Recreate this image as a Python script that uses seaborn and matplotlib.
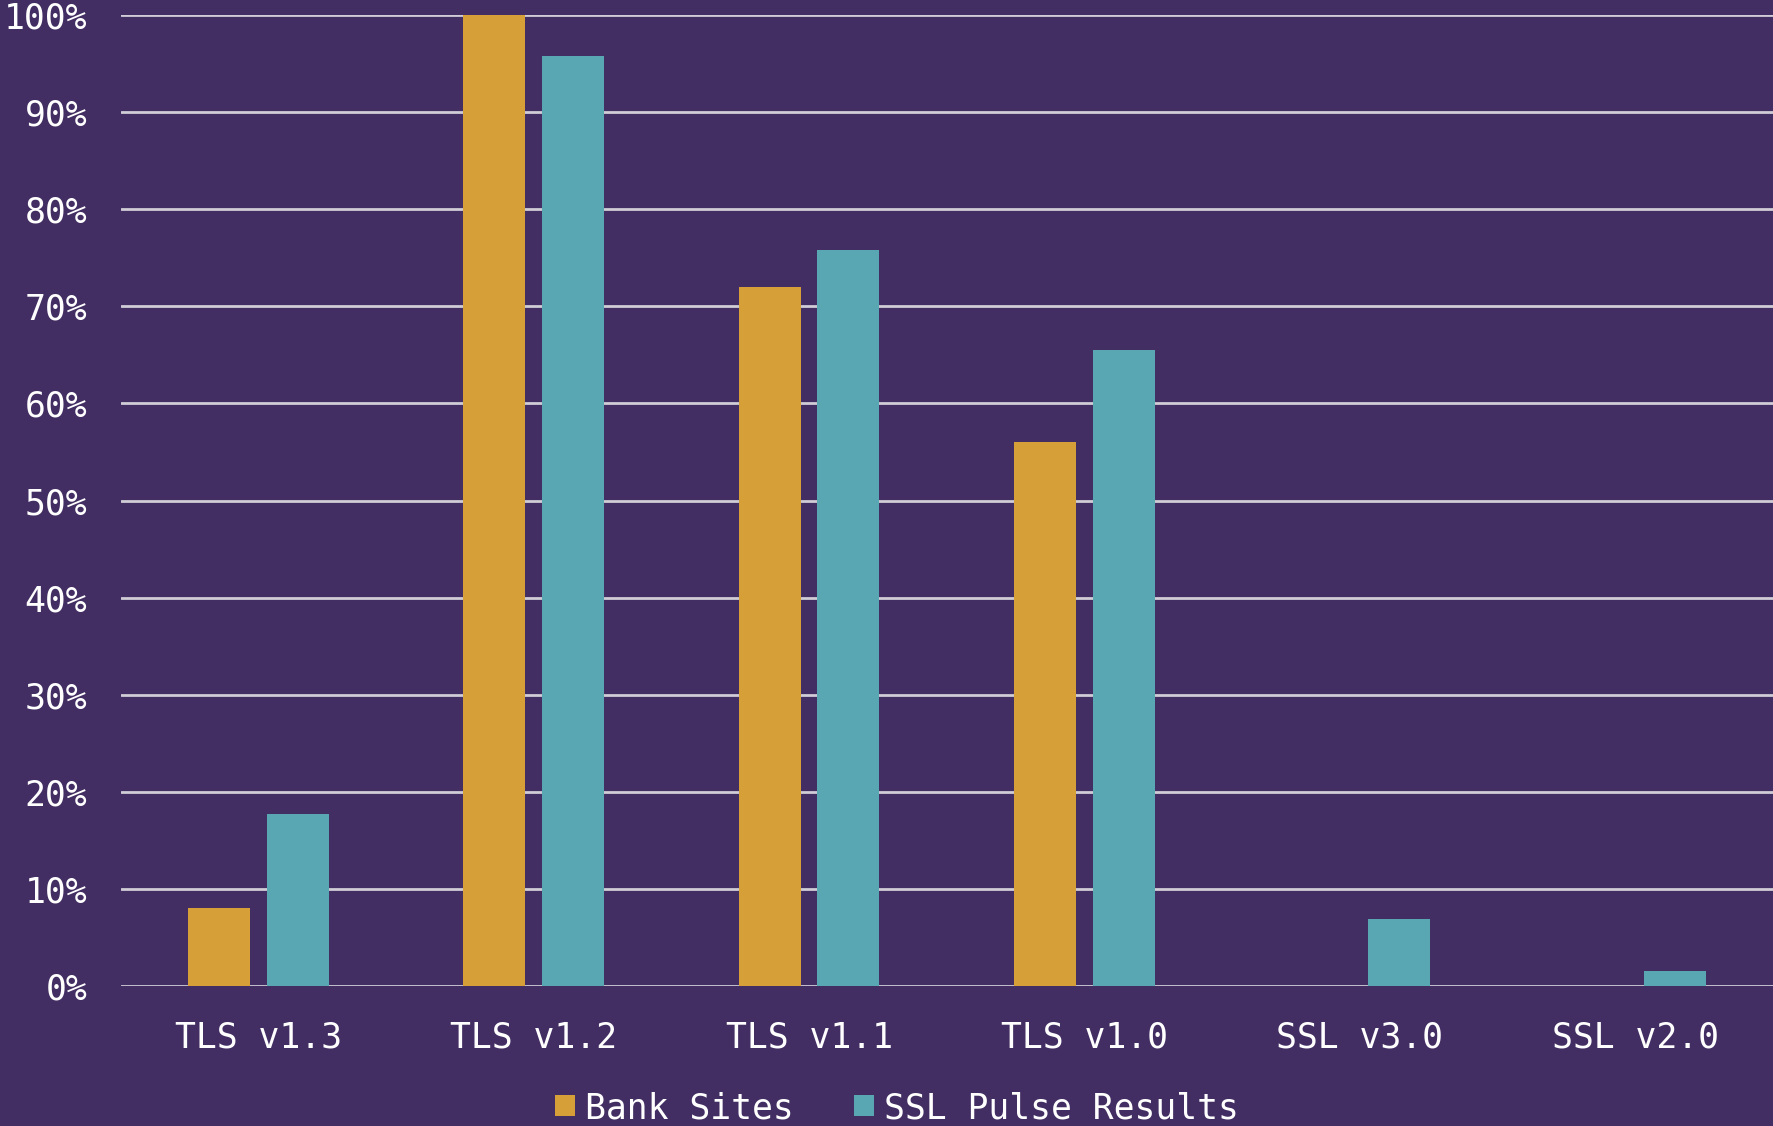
import seaborn as sns
import matplotlib.pyplot as plt
import pandas as pd
from matplotlib.ticker import FuncFormatter

# protocol support, percent of sites
protocols = ["TLS v1.3", "TLS v1.2", "TLS v1.1", "TLS v1.0", "SSL v3.0", "SSL v2.0"]
bank_sites = [8, 100, 72, 56, 0, 0]
ssl_pulse = [17.7, 95.8, 75.8, 65.5, 6.9, 1.6]
series = ["Bank Sites", "SSL Pulse Results"]

df = pd.DataFrame({
    "protocol": protocols * 2,
    "pct": bank_sites + ssl_pulse,
    "source": [series[0]] * len(protocols) + [series[1]] * len(protocols),
})

bg = "#432e63"
sns.set_theme(style="dark")
plt.rcParams["font.family"] = ["DejaVu Sans Mono"]

fig = plt.figure(figsize=(17.73, 11.26), dpi=100, facecolor=bg)
ax = fig.add_axes([0.068, 0.1243, 0.932, 0.8624])
ax.set_facecolor(bg)

sns.barplot(data=df, x="protocol", y="pct", hue="source", order=protocols,
            palette=["#d79f38", "#5aa7b4"], width=0.57, gap=0.21,
            linewidth=0, saturation=1, ax=ax, zorder=3)

ax.set_ylim(0, 100)
ax.set_xlim(-0.5, 5.5)
ax.set_yticks(range(0, 101, 10))
ax.yaxis.set_major_formatter(FuncFormatter(lambda v, p: f"{int(v)}%"))
ax.grid(axis="y", color="#d0cdd6", linewidth=2, zorder=0)
ax.grid(axis="x", visible=False)
for s in ax.spines.values():
    s.set_visible(False)
ax.set_xlabel("")
ax.set_ylabel("")
ax.tick_params(axis="y", length=0, pad=24, labelsize=25, labelcolor="white")
ax.tick_params(axis="x", length=0, pad=25, labelsize=25, labelcolor="white")

ax.legend_.remove()
handles, labels = ax.get_legend_handles_labels()
fig.legend(handles, labels, loc="lower center", bbox_to_anchor=(0.506, -0.027),
           ncol=2, frameon=False, fontsize=25, labelcolor="white",
           handlelength=0.55, handleheight=0.55, handletextpad=0.3,
           columnspacing=1.75)

fig.savefig("out.png", dpi=100, facecolor=bg)
